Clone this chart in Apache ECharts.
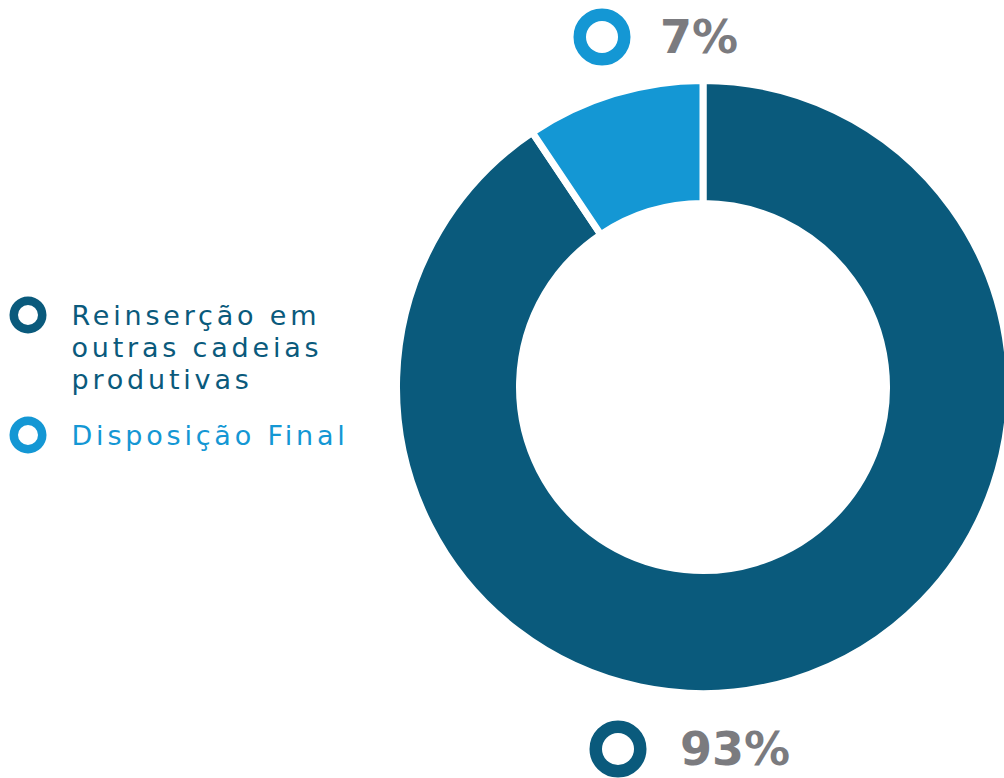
<!DOCTYPE html>
<html>
<head>
<meta charset="utf-8">
<script src="https://cdn.jsdelivr.net/npm/echarts@6/dist/echarts.min.js"></script>
<style>
	html, body { margin: 0; padding: 0; background: #fff; }
	#chart { width: 1004px; height: 778px; }
	/* espaçamento entre letras da legenda */
	#chart text[fill="#0a5a7c"], #chart text[fill="#1497d4"],
	#chart text[fill="#0A5A7C"], #chart text[fill="#1497D4"] { letter-spacing: 3.8px; }
</style>
</head>
<body>
<div id="chart"></div>
<script>
// categorias e valores
var categorias = ['Reinserção em\noutras cadeias\nprodutivas', 'Disposição Final'];
var fatias = [90.6, 9.4];
var rotulos = ['93%', '7%'];
var cores = ['#0a5a7c', '#1497d4'];
var posRotulos = [[602, 749], [586, 37]];

var anel = 'path://M18.5,0A18.5,18.5,0,1,1,18.5,37A18.5,18.5,0,1,1,18.5,0ZM18.5,8.5A10,10,0,1,0,18.5,28.5A10,10,0,1,0,18.5,8.5Z';

var myChart = echarts.init(document.getElementById('chart'), null, {renderer: 'svg'});

var dados = [];
var legenda = [];
for (var i = 0; i < categorias.length; i++) {
	dados.push({
		name: categorias[i],
		value: fatias[i],
		itemStyle: { color: cores[i] },
		label: {
			formatter: '{ring| }{pct|' + rotulos[i] + '}',
			rich: {
				ring: {
					width: 32, height: 32, borderRadius: 16,
					borderWidth: 12.5, borderColor: cores[i], backgroundColor: '#fff'
				},
				pct: {
					fontSize: 46, fontWeight: 'bold', color: '#7b7b7f',
					fontFamily: 'DejaVu Sans', padding: [0, 0, 0, i == 0 ? 46 : 42]
				}
			}
		}
	});
	legenda.push({
		name: categorias[i],
		icon: anel,
		textStyle: { color: cores[i], padding: [0, 0, 0, 20] }
	});
}

var option = {
	animation: false,
	legend: {
		orient: 'vertical',
		left: 4.5,
		top: 230,
		itemWidth: 37,
		itemHeight: 37,
		itemGap: 21.5,
		selectedMode: false,
		itemStyle: { borderWidth: 0 },
		formatter: function (name) {
			// alinha a primeira linha com o ícone
			return name === categorias[0] ? '\n\n' + name : name;
		},
		textStyle: {
			fontFamily: 'DejaVu Sans',
			fontSize: 27,
			lineHeight: 32
		},
		data: legenda
	},
	series: [{
		type: 'pie',
		center: [703, 387],
		radius: [183.5, 306.5],
		startAngle: 90,
		clockwise: true,
		silent: true,
		itemStyle: { borderColor: '#fff', borderWidth: 7 },
		label: { show: true, position: 'outside' },
		labelLine: { show: false },
		labelLayout: function (params) {
			var p = posRotulos[params.dataIndex];
			return { x: p[0], y: p[1], align: 'left', verticalAlign: 'middle' };
		},
		emphasis: { disabled: true },
		data: dados
	}]
};
myChart.setOption(option);
</script>
</body>
</html>
